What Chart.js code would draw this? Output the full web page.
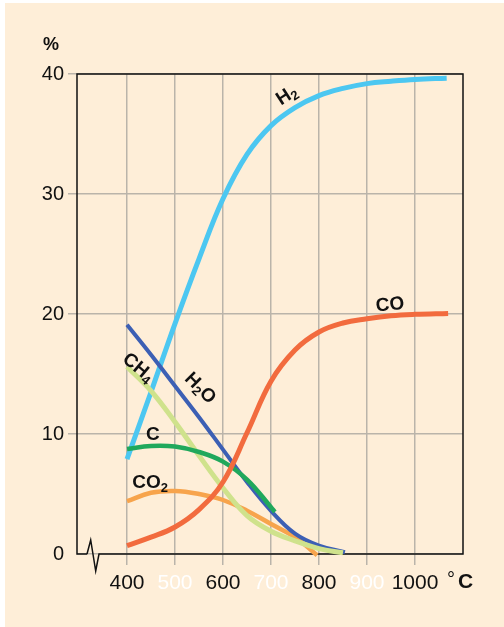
<!DOCTYPE html>
<html>
<head>
<meta charset="utf-8">
<script src="https://cdn.jsdelivr.net/npm/chart.js@4"></script>
<style>
  html, body { margin: 0; padding: 0; background: #fff; }
  canvas { display: block; }
</style>
</head>
<body>
<canvas id="chart" width="504" height="627"></canvas>
<script>
// temperatures (°C) and mole fractions (%)
const tickTemps = [400, 500, 600, 700, 800, 900, 1000]
const whiteTicks = [500, 700, 900]

const h2Temps = [400, 450, 500, 550, 600, 650, 700, 750, 800, 850, 900, 950, 1000, 1066]
const h2Values = [7.9, 13.5, 19.2, 24.6, 29.6, 33.3, 35.7, 37.2, 38.2, 38.8, 39.2, 39.4, 39.55, 39.65]

const coTemps = [400, 450, 500, 550, 600, 650, 700, 750, 800, 850, 900, 950, 1000, 1069]
const coValues = [0.7, 1.4, 2.25, 3.7, 6.0, 10.1, 14.4, 17.0, 18.5, 19.25, 19.6, 19.85, 19.97, 20.05]

const h2oTemps = [400, 450, 500, 550, 600, 650, 700, 750, 800, 854]
const h2oValues = [19.1, 16.6, 14.0, 11.4, 8.7, 6.0, 3.6, 1.7, 0.7, 0.15]

const ch4Temps = [400, 450, 500, 550, 600, 650, 700, 750, 800, 850]
const ch4Values = [15.6, 13.6, 11.0, 8.2, 5.5, 3.2, 1.9, 1.1, 0.45, 0.1]

const cTemps = [400, 450, 500, 550, 600, 650, 700, 708]
const cValues = [8.75, 9.0, 8.95, 8.5, 7.7, 6.2, 3.9, 3.5]

const co2Temps = [400, 450, 500, 550, 600, 650, 700, 750, 796]
const co2Values = [4.4, 5.1, 5.25, 5.0, 4.5, 3.6, 2.5, 1.4, -0.1]

const curveLabels = [
  { text: 'H', sub: '2', sub2: '', x: 733, y: 38.2, angle: -33 },
  { text: 'CO', sub: '', sub2: '', x: 948, y: 20.75, angle: -5 },
  { text: 'CH', sub: '4', sub2: '', x: 423, y: 15.5, angle: 40 },
  { text: 'H', sub: '2', sub2: 'O', x: 552, y: 13.8, angle: 45 },
  { text: 'C', sub: '', sub2: '', x: 454, y: 9.9, angle: 0 },
  { text: 'CO', sub: '2', sub2: '', x: 448, y: 5.9, angle: 0 },
]

const GRID = '#bab4aa'
const FONT = 'Liberation Sans, Arial, sans-serif'

function pairs(xs, ys) {
  return xs.map((x, i) => ({ x, y: ys[i] }))
}

function series(label, xs, ys, color, width) {
  return {
    label,
    data: pairs(xs, ys),
    borderColor: color,
    borderWidth: width,
    pointRadius: 0,
    tension: 0.4,
    fill: false,
    clip: 6,
  }
}

const background = {
  id: 'background',
  beforeDraw(chart) {
    const { ctx, width, height } = chart
    ctx.save()
    ctx.fillStyle = '#ffffff'
    ctx.fillRect(0, 0, width, height)
    ctx.fillStyle = '#feeed8'
    ctx.fillRect(5, 3, width - 5, height - 3)
    ctx.restore()
  },
}

const frame = {
  id: 'frame',
  beforeDatasetsDraw(chart) {
    const { ctx } = chart
    const { left, right, top, bottom } = chart.chartArea
    ctx.save()
    ctx.strokeStyle = '#111'
    ctx.lineWidth = 1.5
    ctx.beginPath()
    ctx.moveTo(left + 10, bottom)
    ctx.lineTo(left + 13.7, bottom - 14)
    ctx.lineTo(left + 18.7, bottom + 17)
    ctx.lineTo(left + 22, bottom)
    ctx.lineTo(right, bottom)
    ctx.lineTo(right, top)
    ctx.lineTo(left, top)
    ctx.lineTo(left, bottom)
    ctx.lineTo(left + 10, bottom)
    ctx.stroke()
    ctx.restore()
  },
}

const annotations = {
  id: 'annotations',
  afterDatasetsDraw(chart) {
    const { ctx } = chart
    const xs = chart.scales.x
    const ys = chart.scales.y
    ctx.save()
    ctx.fillStyle = '#111'
    ctx.textBaseline = 'middle'
    curveLabels.forEach(l => {
      const big = 'bold 19px ' + FONT
      const small = 'bold 13px ' + FONT
      ctx.font = big
      const w1 = ctx.measureText(l.text).width
      const w3 = ctx.measureText(l.sub2).width
      ctx.font = small
      const w2 = ctx.measureText(l.sub).width
      const total = w1 + w2 + w3
      ctx.save()
      ctx.translate(xs.getPixelForValue(l.x), ys.getPixelForValue(l.y))
      ctx.rotate(l.angle * Math.PI / 180)
      ctx.textAlign = 'left'
      ctx.font = big
      ctx.fillText(l.text, -total / 2, 0)
      ctx.font = small
      ctx.fillText(l.sub, -total / 2 + w1, 5)
      ctx.font = big
      ctx.fillText(l.sub2, -total / 2 + w1 + w2, 0)
      ctx.restore()
    })
    // axis units
    ctx.textAlign = 'left'
    ctx.font = 'bold 18px ' + FONT
    ctx.fillText('%', 43, 45)
    ctx.font = '20px ' + FONT
    ctx.fillText('°', 447, 580)
    ctx.font = 'bold 21px ' + FONT
    ctx.fillText('C', 458, 582)
    ctx.restore()
  },
}

new Chart(document.getElementById('chart'), {
  type: 'line',
  data: {
    datasets: [
      series('CO', coTemps, coValues, '#f26b3e', 5),
      series('C', cTemps, cValues, '#20a85c', 4.5),
      series('CH4', ch4Temps, ch4Values, '#cfe28c', 5),
      series('H2O', h2oTemps, h2oValues, '#3c5fb4', 4),
      series('CO2', co2Temps, co2Values, '#f7a44c', 4.5),
      series('H2', h2Temps, h2Values, '#4cc7f1', 5),
    ],
  },
  options: {
    responsive: false,
    animation: false,
    layout: { padding: { left: 0, right: 41, top: 74, bottom: 0 } },
    plugins: { legend: { display: false }, tooltip: { enabled: false } },
    scales: {
      x: {
        type: 'linear',
        min: 295.8,
        max: 1100,
        afterBuildTicks(scale) {
          scale.ticks = tickTemps.map(v => ({ value: v }))
        },
        afterFit(scale) {
          scale.height = 73
        },
        border: { display: false },
        grid: {
          color: GRID,
          lineWidth: 1.5,
          tickLength: 11,
          tickColor: GRID,
        },
        ticks: {
          autoSkip: false,
          maxRotation: 0,
          padding: 6,
          font: { family: FONT, size: 21 },
          color: c => (whiteTicks.includes(c.tick && c.tick.value) ? '#ffffff' : '#111111'),
          callback: v => String(v),
        },
      },
      y: {
        min: 0,
        max: 40,
        afterFit(scale) {
          scale.width = 77
        },
        border: { display: false },
        grid: {
          color: GRID,
          lineWidth: 1.5,
          tickLength: 9,
          tickColor: c => (c.tick && c.tick.value === 0 ? 'rgba(0,0,0,0)' : GRID),
        },
        ticks: {
          stepSize: 10,
          padding: 4,
          font: { family: FONT, size: 20 },
          color: '#111111',
        },
      },
    },
  },
  plugins: [background, frame, annotations],
})
</script>
</body>
</html>
